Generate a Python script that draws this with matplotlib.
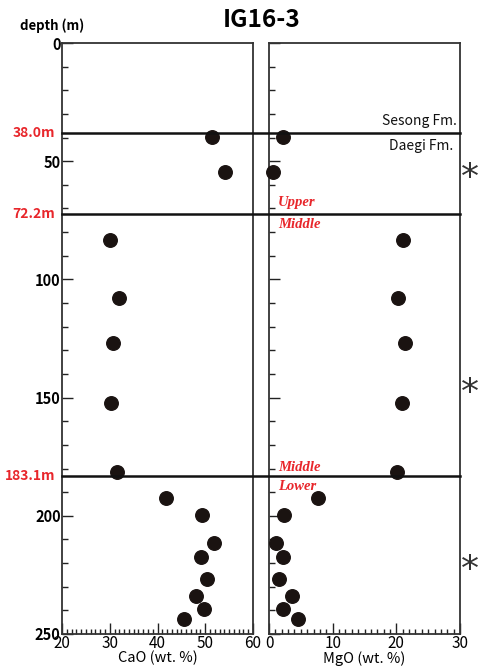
import numpy as np
import matplotlib.pyplot as plt
from matplotlib.lines import Line2D
from matplotlib.ticker import MultipleLocator
import matplotlib.transforms as mtransforms

plt.rcParams['font.family'] = ['Noto Sans CJK KR', 'DejaVu Sans']

# sample depths (m) and oxide contents (wt. %)
depth = [39.9, 54.7, 83.3, 107.9, 126.9, 152.3, 181.6, 192.5, 199.8,
         211.5, 217.6, 226.7, 233.8, 239.3, 243.5]
cao = [51.5, 54.2, 30.0, 31.9, 30.7, 30.3, 31.6, 41.7, 49.3,
       51.9, 49.1, 50.4, 48.0, 49.7, 45.5]
mgo = [2.2, 0.7, 21.0, 20.3, 21.4, 20.9, 20.1, 7.75, 2.35,
       1.15, 2.25, 1.6, 3.55, 2.15, 4.6]

# boundary depths (m)
boundaries = [38.0, 72.2, 183.1]
boundary_labels = ['38.0m', '72.2m', '183.1m']
star_depths = [53.7, 144.7, 219.5]

W, H = 479, 667
fig = plt.figure(figsize=(W / 100, H / 100), dpi=100)

def px_box(x0, x1, y0, y1):
    return [x0 / W, 1 - y1 / H, (x1 - x0) / W, (y1 - y0) / H]

ax1 = fig.add_axes(px_box(62, 253, 43, 634))
ax2 = fig.add_axes(px_box(269, 460, 43, 634))

red = '#e8262b'

for ax, x, xlim, xlab in [(ax1, cao, (20, 60), 'CaO (wt. %)'),
                          (ax2, mgo, (0, 30), 'MgO (wt. %)')]:
    ax.scatter(x, depth, s=95, color='#1a1311', zorder=3, clip_on=False)
    ax.set_xlim(*xlim)
    ax.set_ylim(250, 0)
    ax.xaxis.set_major_locator(MultipleLocator(10))
    ax.xaxis.set_minor_locator(MultipleLocator(1))
    ax.yaxis.set_major_locator(MultipleLocator(50))
    ax.yaxis.set_minor_locator(MultipleLocator(10))
    ax.tick_params(which='both', direction='in', color='#222222', width=1.0,
                   labelsize=11, pad=1)
    ax.tick_params(which='major', length=8)
    ax.tick_params(which='minor', length=4.5)
    ax.tick_params(axis='x', which='minor', length=3.5)
    ax.tick_params(axis='x', pad=1)
    ax.set_xlabel(xlab, fontsize=10.5, labelpad=-1)
    for s in ax.spines.values():
        s.set_color('#333333')
        s.set_linewidth(1.3)

ax1.set_yticks([0, 50, 100, 150, 200, 250])
ax1.set_yticklabels(['0', '50', '100', '150', '200', '250'],
                    fontweight='bold', fontsize=10.5)
ax2.set_yticklabels([])
for lab in ax1.get_xticklabels() + ax2.get_xticklabels():
    lab.set_fontsize(11)
    lab.set_fontweight('medium')

# boundary lines across both panels
trans = mtransforms.blended_transform_factory(fig.transFigure, ax1.transData)
for d, lab in zip(boundaries, boundary_labels):
    fig.add_artist(Line2D([62 / W, 460 / W], [d, d], transform=trans,
                          color='#111111', lw=1.8, zorder=5))
    fig.text(55 / W, d, lab, transform=trans, ha='right', va='center',
             color=red, fontsize=10, fontweight='bold')

# formation names
ax2.text(29.5, 36.0, 'Sesong Fm.', ha='right', va='bottom', fontsize=10,
         fontweight='medium', color='#111111')
ax2.text(28.9, 40.5, 'Daegi Fm.', ha='right', va='top', fontsize=10,
         fontweight='medium', color='#111111')

# member names
unit_style = dict(color=red, fontsize=10.5, fontweight='bold', style='italic',
                  family='Liberation Serif', ha='left', va='center')
ax2.text(1.4, 67.5, 'Upper', **unit_style)
ax2.text(1.4, 76.8, 'Middle', **unit_style)
ax2.text(1.4, 179.5, 'Middle', **unit_style)
ax2.text(1.4, 187.5, 'Lower', **unit_style)

for d in star_depths:
    fig.text(470 / W, d + 3.5, '*', transform=trans, ha='center', va='center',
             fontsize=26, color='#333333', family='DejaVu Sans')

fig.text(262 / W, 1 - 20 / H, 'IG16-3', ha='center', va='center',
         fontsize=17.5, fontweight='bold')
fig.text(20 / W, 1 - 26 / H, 'depth (m)', ha='left', va='center',
         fontsize=9.5, fontweight='bold')

fig.savefig('out.png', dpi=100)
